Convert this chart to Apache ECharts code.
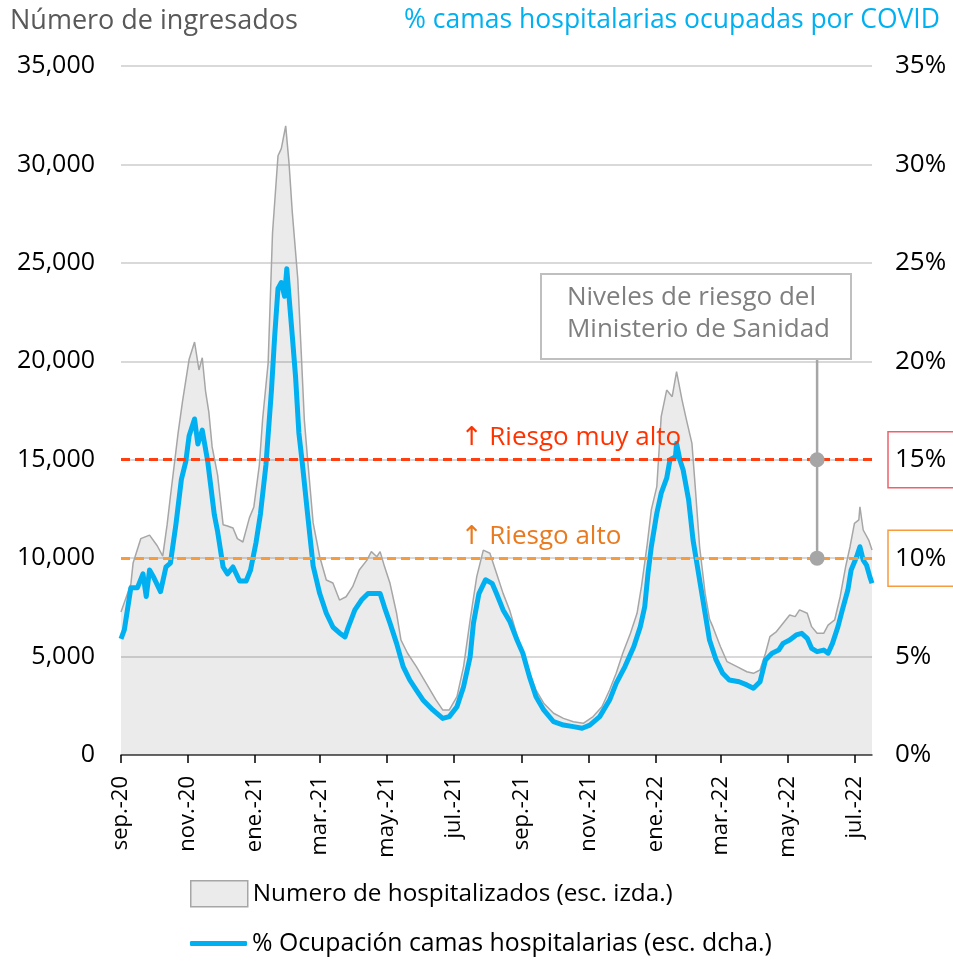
<!DOCTYPE html>
<html>
<head>
<meta charset="utf-8">
<script src="https://cdn.jsdelivr.net/npm/echarts@6.0.0/dist/echarts.min.js"></script>
<style>
html,body{margin:0;padding:0;background:#fff;}
#chart{width:953px;height:964px;}
</style>
</head>
<body>
<div id="chart"></div>
<script>
// ---------- DATA ----------
const hospName = 'Numero de hospitalizados (esc. izda.)';
const occName = '% Ocupación camas hospitalarias (esc. dcha.)';

const hospDates = ['2020-09-01','2020-09-10','2020-09-12','2020-09-19','2020-09-27','2020-10-04','2020-10-09','2020-10-13','2020-10-16','2020-10-23','2020-10-27','2020-11-02','2020-11-07','2020-11-11','2020-11-14','2020-11-17','2020-11-20','2020-11-23','2020-11-28','2020-12-03','2020-12-07','2020-12-12','2020-12-16','2020-12-21','2020-12-27','2020-12-31','2021-01-05','2021-01-08','2021-01-13','2021-01-17','2021-01-22','2021-01-25','2021-01-29','2021-02-01','2021-02-04','2021-02-09','2021-02-12','2021-02-15','2021-02-18','2021-02-23','2021-03-01','2021-03-07','2021-03-13','2021-03-19','2021-03-25','2021-03-31','2021-04-06','2021-04-13','2021-04-17','2021-04-22','2021-04-25','2021-04-29','2021-05-04','2021-05-10','2021-05-14','2021-05-20','2021-05-28','2021-06-06','2021-06-15','2021-06-21','2021-06-27','2021-07-04','2021-07-10','2021-07-16','2021-07-22','2021-07-28','2021-08-03','2021-08-09','2021-08-15','2021-08-21','2021-08-27','2021-09-02','2021-09-08','2021-09-14','2021-09-21','2021-09-30','2021-10-09','2021-10-18','2021-10-27','2021-11-05','2021-11-13','2021-11-20','2021-11-26','2021-12-02','2021-12-09','2021-12-15','2021-12-19','2021-12-24','2021-12-28','2022-01-02','2022-01-06','2022-01-11','2022-01-16','2022-01-20','2022-01-25','2022-01-29','2022-02-03','2022-02-06','2022-02-10','2022-02-15','2022-02-19','2022-02-22','2022-03-01','2022-03-07','2022-03-16','2022-03-25','2022-03-31','2022-04-06','2022-04-11','2022-04-15','2022-04-21','2022-04-27','2022-05-03','2022-05-08','2022-05-12','2022-05-19','2022-05-23','2022-05-28','2022-06-03','2022-06-07','2022-06-13','2022-06-18','2022-06-23','2022-06-27','2022-07-01','2022-07-05','2022-07-06','2022-07-09','2022-07-14','2022-07-17'];
const hospValues = [7260,8690,9750,10990,11170,10630,10100,11700,13130,16350,17950,20090,20980,19560,20180,18490,17420,15650,14220,11700,11630,11530,10990,10820,12060,12600,14730,17070,19910,26520,30440,30800,31960,30090,27580,24190,20620,17000,15000,11790,10070,8890,8740,7870,8040,8550,9400,9900,10330,10070,10330,9570,8720,7200,5840,5170,4490,3640,2790,2290,2290,2960,4490,6860,9060,10410,10250,9230,8210,7350,6200,5170,4150,3300,2630,2120,1860,1690,1610,1950,2450,3300,4150,5170,6180,7200,8550,10580,12450,13630,17190,18540,18200,19470,18030,17020,15830,13630,10580,8210,6900,6520,5500,4740,4490,4230,4150,4320,5170,6010,6270,6690,7110,7030,7370,7200,6520,6180,6180,6600,6860,8040,9570,10580,11770,11940,12610,11430,10920,10410];

const occDates = ['2020-09-01','2020-09-04','2020-09-10','2020-09-16','2020-09-21','2020-09-24','2020-09-27','2020-10-01','2020-10-07','2020-10-12','2020-10-16','2020-10-21','2020-10-26','2020-10-30','2020-11-02','2020-11-07','2020-11-10','2020-11-14','2020-11-19','2020-11-21','2020-11-25','2020-11-28','2020-12-03','2020-12-07','2020-12-12','2020-12-18','2020-12-24','2020-12-28','2021-01-02','2021-01-06','2021-01-11','2021-01-16','2021-01-19','2021-01-22','2021-01-25','2021-01-28','2021-01-30','2021-02-01','2021-02-04','2021-02-07','2021-02-10','2021-02-13','2021-02-18','2021-02-23','2021-03-01','2021-03-07','2021-03-13','2021-03-19','2021-03-24','2021-03-27','2021-04-02','2021-04-08','2021-04-14','2021-04-19','2021-04-25','2021-04-29','2021-05-04','2021-05-10','2021-05-16','2021-05-22','2021-05-28','2021-06-03','2021-06-12','2021-06-21','2021-06-27','2021-07-04','2021-07-10','2021-07-16','2021-07-19','2021-07-24','2021-07-30','2021-08-05','2021-08-09','2021-08-15','2021-08-21','2021-08-28','2021-09-02','2021-09-08','2021-09-14','2021-09-21','2021-09-30','2021-10-09','2021-10-18','2021-10-26','2021-11-02','2021-11-11','2021-11-20','2021-11-26','2021-12-04','2021-12-12','2021-12-18','2021-12-22','2021-12-25','2021-12-28','2022-01-02','2022-01-06','2022-01-11','2022-01-14','2022-01-19','2022-01-20','2022-01-23','2022-01-26','2022-01-31','2022-02-04','2022-02-09','2022-02-15','2022-02-19','2022-02-25','2022-03-03','2022-03-09','2022-03-18','2022-03-25','2022-03-31','2022-04-06','2022-04-11','2022-04-17','2022-04-23','2022-04-27','2022-05-03','2022-05-09','2022-05-14','2022-05-19','2022-05-23','2022-05-28','2022-06-03','2022-06-07','2022-06-11','2022-06-16','2022-06-20','2022-06-25','2022-06-28','2022-07-03','2022-07-06','2022-07-09','2022-07-12','2022-07-15','2022-07-17'];
const occValues = [5.9,6.35,8.5,8.5,9.2,8.05,9.4,9.0,8.3,9.56,9.75,11.7,14.0,14.9,16.2,17.07,15.8,16.5,14.9,14.0,12.2,11.35,9.55,9.2,9.55,8.84,8.84,9.4,10.8,12.24,14.73,18.5,21.3,23.7,24.0,23.3,24.7,23.3,21.3,19.2,16.36,14.9,12.2,9.6,8.2,7.2,6.5,6.2,6.0,6.5,7.37,7.87,8.2,8.2,8.2,7.5,6.7,5.67,4.49,3.81,3.3,2.8,2.29,1.86,1.95,2.45,3.47,4.99,6.69,8.2,8.9,8.72,8.2,7.37,6.8,5.8,5.17,3.98,2.96,2.29,1.69,1.52,1.44,1.36,1.52,1.95,2.79,3.64,4.49,5.5,6.52,7.53,9.23,10.58,12.28,13.3,14.06,15.0,15.15,15.83,15.0,14.48,12.95,10.92,9.23,7.2,5.84,4.83,4.15,3.81,3.72,3.56,3.39,3.72,4.83,5.17,5.33,5.67,5.84,6.1,6.18,5.93,5.42,5.25,5.33,5.17,5.67,6.52,7.37,8.38,9.4,10.07,10.58,9.9,9.65,9.06,8.72];

const xTicks = ['2020-09-01','2020-11-01','2021-01-01','2021-03-01','2021-05-01','2021-07-01','2021-09-01','2021-11-01','2022-01-01','2022-03-01','2022-05-01','2022-07-01'];
const monthNames = ['ene.','feb.','mar.','abr.','may.','jun.','jul.','ago.','sep.','oct.','nov.','dic.'];
const xStart = '2020-09-01';
const xEnd = '2022-07-17';

const riskLevels = [15, 10];
const riskLabels = ['\u2191 Riesgo muy alto', '\u2191 Riesgo alto'];
const riskLabelDate = '2021-07-07';
const riskConnectorDate = '2022-05-28';
const riskConnectorTop = 20.2;
const boxText = 'Niveles de riesgo del\nMinisterio de Sanidad';

// ---------- HELPERS ----------
const DAY = 86400000;
function utc(s) { const p = s.split('-').map(Number); return Date.UTC(p[0], p[1] - 1, p[2]); }
const t0 = utc(xStart);
function dayIdx(s) { return Math.round((utc(s) - t0) / DAY); }
function dayLabel(n) {
  const d = new Date(t0 + Math.round(n) * DAY);
  return monthNames[d.getUTCMonth()] + '-' + String(d.getUTCFullYear()).slice(2);
}

// ---------- STYLE ----------
const FONT = "'Open Sans', 'DejaVu Sans', sans-serif";
const BLUE = '#00b0f0';
const riskLineColors = ['#ff3f0f', '#f79b3d'];
const riskTextColors = ['#ff3300', '#e97a1f'];
const riskBoxColors = ['#f0606a', '#f79b3d'];

const chart = echarts.init(document.getElementById('chart'), null, {renderer: 'canvas'});

const hospData = hospDates.map((d, i) => [dayIdx(d), hospValues[i]]);
const occData = occDates.map((d, i) => [dayIdx(d), occValues[i]]);
const tickDays = xTicks.map(dayIdx);

const option = {
  animation: false,
  backgroundColor: '#fff',
  title: [
    {text: 'Número de ingresados', left: 10, top: 8, padding: 0,
     textStyle: {fontFamily: FONT, fontSize: 27, fontWeight: 'normal', color: '#595959'}},
    {text: '% camas hospitalarias ocupadas por COVID', right: 13, top: 7, padding: 0,
     textStyle: {fontFamily: FONT, fontSize: 26.5, fontWeight: 'normal', color: BLUE}}
  ],
  grid: {left: 121, right: 81, top: 66, bottom: 209, containLabel: false, outerBoundsMode: 'none'},
  legend: [
    {data: [{name: hospName, icon: 'rect',
             itemStyle: {color: '#ebebeb', borderColor: '#a6a6a6', borderWidth: 1.5}}],
     left: 190, top: 880, padding: 0, itemWidth: 57, itemHeight: 26, selectedMode: false,
     textStyle: {fontFamily: FONT, fontSize: 24.3, color: '#000'}},
    {data: [{name: occName, icon: 'roundRect', itemStyle: {color: BLUE}}],
     left: 190, top: 931, padding: 0, itemWidth: 57, itemHeight: 5, selectedMode: false,
     textStyle: {fontFamily: FONT, fontSize: 24.8, color: '#000'}}
  ],
  xAxis: {
    type: 'value',
    min: 0,
    max: dayIdx(xEnd),
    axisLine: {show: true, lineStyle: {color: '#404040', width: 1.5}},
    axisTick: {show: true, customValues: tickDays, length: 8, lineStyle: {color: '#000', width: 1.5}},
    axisLabel: {
      customValues: tickDays,
      rotate: 90,
      margin: 21,
      fontFamily: FONT, fontSize: 22, color: '#000',
      formatter: v => dayLabel(v)
    },
    splitLine: {show: false}
  },
  yAxis: [
    {
      type: 'value', min: 0, max: 35000, interval: 5000,
      axisLine: {show: false}, axisTick: {show: false},
      axisLabel: {margin: 26, fontFamily: FONT, fontSize: 25, color: '#000',
                  formatter: v => v.toLocaleString('en-US')},
      splitLine: {show: true, lineStyle: {color: '#d9d9d9', width: 2}}
    },
    {
      type: 'value', min: 0, max: 35, interval: 5,
      axisLine: {show: false}, axisTick: {show: false},
      splitLine: {show: false},
      axisLabel: {
        margin: 16, fontFamily: FONT, fontSize: 26, color: '#000', align: 'left',
        formatter: function (v) {
          const k = riskLevels.indexOf(v);
          if (k === 0) return '{hi|' + v + '%}';
          if (k === 1) return '{mid|' + v + '%}';
          return '{n|' + v + '%}';
        },
        rich: {
          n: {padding: [0, 0, 0, 7]},
          hi: {borderColor: riskBoxColors[0], borderWidth: 1.5, padding: [15, 30, 15, 7], lineHeight: 26},
          mid: {borderColor: riskBoxColors[1], borderWidth: 1.5, padding: [15, 30, 15, 7], lineHeight: 26}
        }
      }
    }
  ],
  graphic: [
    {type: 'rect', left: 540, top: 273, z: 100,
     shape: {width: 310, height: 85},
     style: {fill: '#fff', stroke: '#bfbfbf', lineWidth: 2}},
    {type: 'text', right: 123, top: 282, z: 101,
     style: {text: boxText, align: 'right', font: '26px ' + FONT, fill: '#7f7f7f', lineHeight: 32}}
  ],
  series: [
    {
      name: hospName,
      type: 'line',
      yAxisIndex: 0,
      data: hospData,
      symbol: 'none',
      lineStyle: {color: '#a6a6a6', width: 1.5},
      itemStyle: {color: '#a6a6a6'},
      areaStyle: {color: 'rgba(0,0,0,0.078)', opacity: 1},
      z: 2
    },
    {
      name: occName,
      type: 'line',
      yAxisIndex: 1,
      data: occData,
      symbol: 'none',
      lineStyle: {color: BLUE, width: 5, join: 'round'},
      itemStyle: {color: BLUE},
      z: 4,
      markLine: {
        silent: true,
        symbol: 'none',
        label: {show: false},
        data: riskLevels.map((lv, i) => ({
          yAxis: lv,
          lineStyle: {color: riskLineColors[i], type: [9, 5], width: 3}
        }))
      },
      markPoint: {
        silent: true,
        symbol: 'rect',
        symbolSize: 1,
        itemStyle: {color: 'rgba(0,0,0,0)'},
        data: riskLevels.map((lv, i) => ({
          name: riskLabels[i],
          coord: [dayIdx(riskLabelDate), lv],
          label: {
            show: true, position: 'right', distance: 0, offset: [0, -22],
            formatter: '{b}', fontFamily: FONT, fontSize: 26, color: riskTextColors[i]
          }
        }))
      }
    },
    {
      name: 'connector',
      type: 'line',
      yAxisIndex: 1,
      silent: true,
      z: 6,
      symbol: 'circle',
      symbolSize: 15,
      showSymbol: true,
      itemStyle: {color: '#a6a6a6'},
      lineStyle: {color: '#a6a6a6', width: 2.5},
      data: [{value: [dayIdx(riskConnectorDate), riskConnectorTop], symbol: 'none'}]
        .concat(riskLevels.map(lv => ({value: [dayIdx(riskConnectorDate), lv]})))
    }
  ]
};

chart.setOption(option);
</script>
</body>
</html>
